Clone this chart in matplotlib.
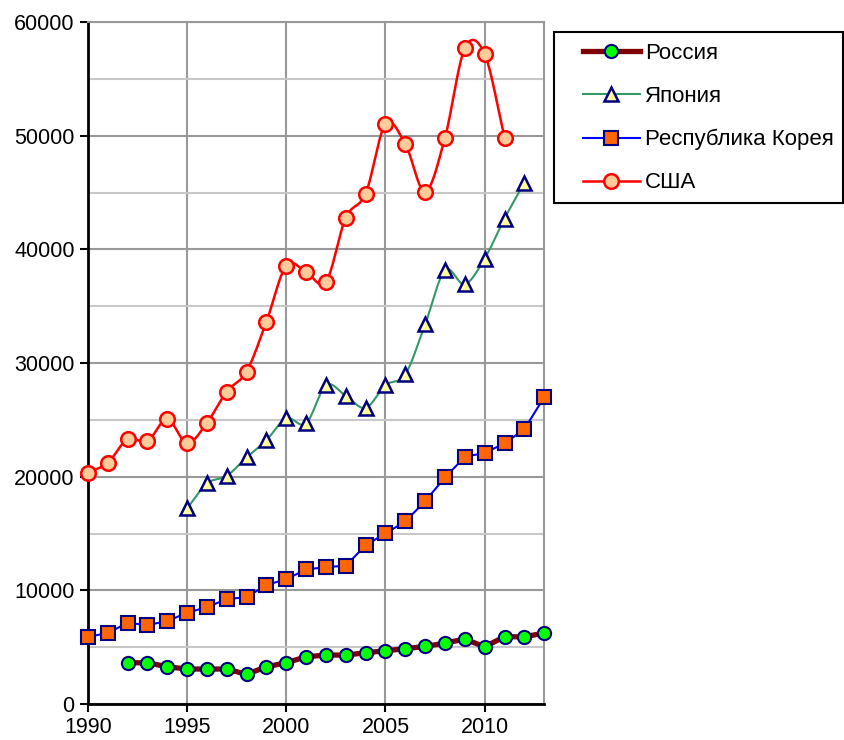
import numpy as np
import matplotlib.pyplot as plt
from matplotlib.lines import Line2D
from matplotlib.patches import Rectangle

plt.rcParams['font.family'] = ['Liberation Sans', 'DejaVu Sans']

# values
years_rus = list(range(1992, 2014))
russia = [3630, 3630, 3280, 3080, 3080, 3080, 2610, 3280, 3630, 4160, 4310,
          4310, 4510, 4690, 4870, 5070, 5360, 5720, 5040, 5920, 5920, 6240]

years_jpn = list(range(1995, 2013))
japan = [17210, 19410, 20080, 21700, 23220, 25130, 24690, 28060, 27120, 26060,
         28060, 29020, 33420, 38170, 36940, 39200, 42720, 45880]

years_kor = list(range(1990, 2014))
korea = [5920, 6240, 7150, 6950, 7300, 8030, 8530, 9230, 9410, 10470, 10990,
         11840, 12050, 12170, 13980, 15010, 16070, 17850, 19940, 21750, 22100,
         22930, 24190, 27000]

years_usa = list(range(1990, 2012))
usa = [20340, 21220, 23310, 23130, 25070, 22950, 24740, 27500, 29260, 33660,
       38580, 38020, 37140, 42800, 44910, 51040, 49280, 45090, 49840, 57720,
       57190, 49840]

labels = ['Россия', 'Япония', 'Республика Корея', 'США']


def smooth(x, y, n=20):
    # catmull-rom curve through the points, like excel's smoothed lines
    x = np.asarray(x, float)
    y = np.asarray(y, float)
    px = np.concatenate([[2 * x[0] - x[1]], x, [2 * x[-1] - x[-2]]])
    py = np.concatenate([[2 * y[0] - y[1]], y, [2 * y[-1] - y[-2]]])
    xs, ys = [], []
    t = np.linspace(0, 1, n, endpoint=False)
    for i in range(1, len(px) - 2):
        for p, out in ((px, xs), (py, ys)):
            p0, p1, p2, p3 = p[i - 1], p[i], p[i + 1], p[i + 2]
            out.extend(0.5 * (2 * p1 + (-p0 + p2) * t
                              + (2 * p0 - 5 * p1 + 4 * p2 - p3) * t ** 2
                              + (-p0 + 3 * p1 - 3 * p2 + p3) * t ** 3))
    xs.append(x[-1])
    ys.append(y[-1])
    return xs, ys


fig = plt.figure(figsize=(8.45, 7.4), dpi=100)
ax = fig.add_axes([0.104, 0.0486, 0.54, 0.9214])

ax.set_xlim(1990, 2013)
ax.set_ylim(0, 60000)
ax.set_xticks(np.arange(1990, 2011, 5))
ax.set_yticks(np.arange(0, 60001, 10000))
ax.set_yticks(np.arange(5000, 60000, 10000), minor=True)
ax.tick_params(axis='y', which='minor', length=0)
ax.tick_params(which='major', direction='out', length=6, width=1.5, labelsize=15.5, color='black')
ax.grid(which='major', color='#999999', lw=1.5)
ax.grid(which='minor', axis='y', color='#c8c8c8', lw=1.5)
ax.set_axisbelow(True)
for s in ['top', 'right']:
    ax.spines[s].set_color('#999999')
    ax.spines[s].set_linewidth(1.5)
for s in ['left', 'bottom']:
    ax.spines[s].set_color('black')
    ax.spines[s].set_linewidth(2)

ms = 9.5
ax.plot(years_rus, russia, color='#800000', lw=3.8, zorder=3)
ax.plot(years_rus, russia, 'o', ms=ms, mfc='#00ff00', mec='#000080', mew=1.5, zorder=4, clip_on=False)

sx, sy = smooth(years_jpn, japan)
ax.plot(sx, sy, color='#339966', lw=1.5, zorder=3)
ax.plot(years_jpn, japan, '^', ms=ms + 1, mfc='#ffff99', mec='#000080', mew=1.8, zorder=4)

ax.plot(years_kor, korea, color='#0000ff', lw=1.5, zorder=3)
ax.plot(years_kor, korea, 's', ms=ms, mfc='#ff6600', mec='#000080', mew=1.5, zorder=4, clip_on=False)

sx, sy = smooth(years_usa, usa)
ax.plot(sx, sy, color='#ff0000', lw=1.8, zorder=3)
ax.plot(years_usa, usa, 'o', ms=ms + 1, mfc='#ffcc99', mec='#ff0000', mew=1.8, zorder=4, clip_on=False)

handles = [
    Line2D([], [], color='#800000', lw=3.8, marker='o', ms=ms, mfc='#00ff00', mec='#000080', mew=1.5),
    Line2D([], [], color='#339966', lw=1.5, marker='^', ms=ms + 1, mfc='#ffff99', mec='#000080', mew=1.8),
    Line2D([], [], color='#0000ff', lw=1.5, marker='s', ms=ms, mfc='#ff6600', mec='#000080', mew=1.5),
    Line2D([], [], color='#ff0000', lw=1.8, marker='o', ms=ms + 1, mfc='#ffcc99', mec='#ff0000', mew=1.8),
]

# legend frame drawn by hand so the inner padding matches
fig.patches.append(Rectangle((0.6556, 0.7257), 0.342, 0.231, transform=fig.transFigure,
                             fill=False, edgecolor='black', lw=1.5))
fig.legend(handles, labels, loc='upper left', bbox_to_anchor=(583 / 845, 1 - 43 / 740),
           fontsize=16, frameon=False, labelspacing=0.99, handlelength=2.55,
           handletextpad=0.25, borderpad=0, borderaxespad=0)

fig.savefig('out.png', dpi=100)
